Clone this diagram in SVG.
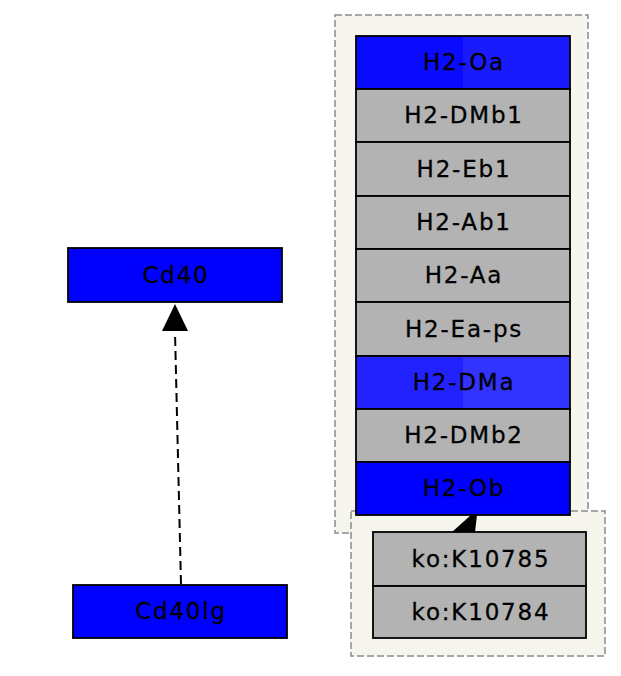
<svg xmlns="http://www.w3.org/2000/svg" width="621" height="676" viewBox="0 0 621 676">
<style>
.cl{fill:#f6f6ee;stroke:#8c8c8c;stroke-width:1.5;stroke-dasharray:7,3}
.n{stroke:#000;stroke-width:1.8}
.g{fill:#b3b3b3}
.b{fill:#0000ff}
.t{font-family:"DejaVu Sans",sans-serif;font-size:23px;letter-spacing:1.8px;text-anchor:middle;fill:#000;stroke:#000;stroke-width:0.3}
.e{stroke:#000;stroke-width:2;stroke-dasharray:9,5;fill:none}
</style>
<rect width="621" height="676" fill="#fff"/>
<g id="cluster1"><rect class="cl" x="335" y="15" width="253" height="518"/></g>
<g id="cluster2"><rect class="cl" x="351" y="511" width="254" height="145"/></g>
<g id="connectors">
<path class="e" d="M181,584 L175,332"/>
<polygon points="175,304 162,331 188,331" fill="#000"/>
<polygon points="471,515 477,515 475,532 452,532" fill="#000"/>
</g>
<g id="Cd40"><rect class="n b" x="68" y="248" width="214" height="54"/><text class="t" x="176" y="283">Cd40</text></g>
<g id="Cd40lg"><rect class="n b" x="73" y="585" width="214" height="53"/><text class="t" x="181" y="619">Cd40lg</text></g>
<g id="H2-Oa"><rect x="356" y="36" width="107" height="53" fill="#0a0aff"/><rect x="463" y="36" width="107" height="53" fill="#1a1aff"/><rect class="n" fill="none" x="356" y="36" width="214" height="53"/><text class="t" x="464" y="70">H2-Oa</text></g>
<g id="H2-DMb1"><rect class="n g" x="356" y="89" width="214" height="53"/><text class="t" x="464" y="123">H2-DMb1</text></g>
<g id="H2-Eb1"><rect class="n g" x="356" y="142" width="214" height="54"/><text class="t" x="464" y="177">H2-Eb1</text></g>
<g id="H2-Ab1"><rect class="n g" x="356" y="196" width="214" height="53"/><text class="t" x="464" y="230">H2-Ab1</text></g>
<g id="H2-Aa"><rect class="n g" x="356" y="249" width="214" height="53"/><text class="t" x="464" y="283">H2-Aa</text></g>
<g id="H2-Ea-ps"><rect class="n g" x="356" y="302" width="214" height="54"/><text class="t" x="464" y="337">H2-Ea-ps</text></g>
<g id="H2-DMa"><rect x="356" y="356" width="107" height="53" fill="#2222ff"/><rect x="463" y="356" width="107" height="53" fill="#3333ff"/><rect class="n" fill="none" x="356" y="356" width="214" height="53"/><text class="t" x="464" y="390">H2-DMa</text></g>
<g id="H2-DMb2"><rect class="n g" x="356" y="409" width="214" height="53"/><text class="t" x="464" y="443">H2-DMb2</text></g>
<g id="H2-Ob"><rect class="n b" x="356" y="462" width="214" height="53"/><text class="t" x="464" y="496">H2-Ob</text></g>
<g id="ko_K10785"><rect class="n g" x="373" y="532" width="213" height="54"/><text class="t" x="481" y="567">ko:K10785</text></g>
<g id="ko_K10784"><rect class="n g" x="373" y="586" width="213" height="52"/><text class="t" x="481" y="620">ko:K10784</text></g>
</svg>
